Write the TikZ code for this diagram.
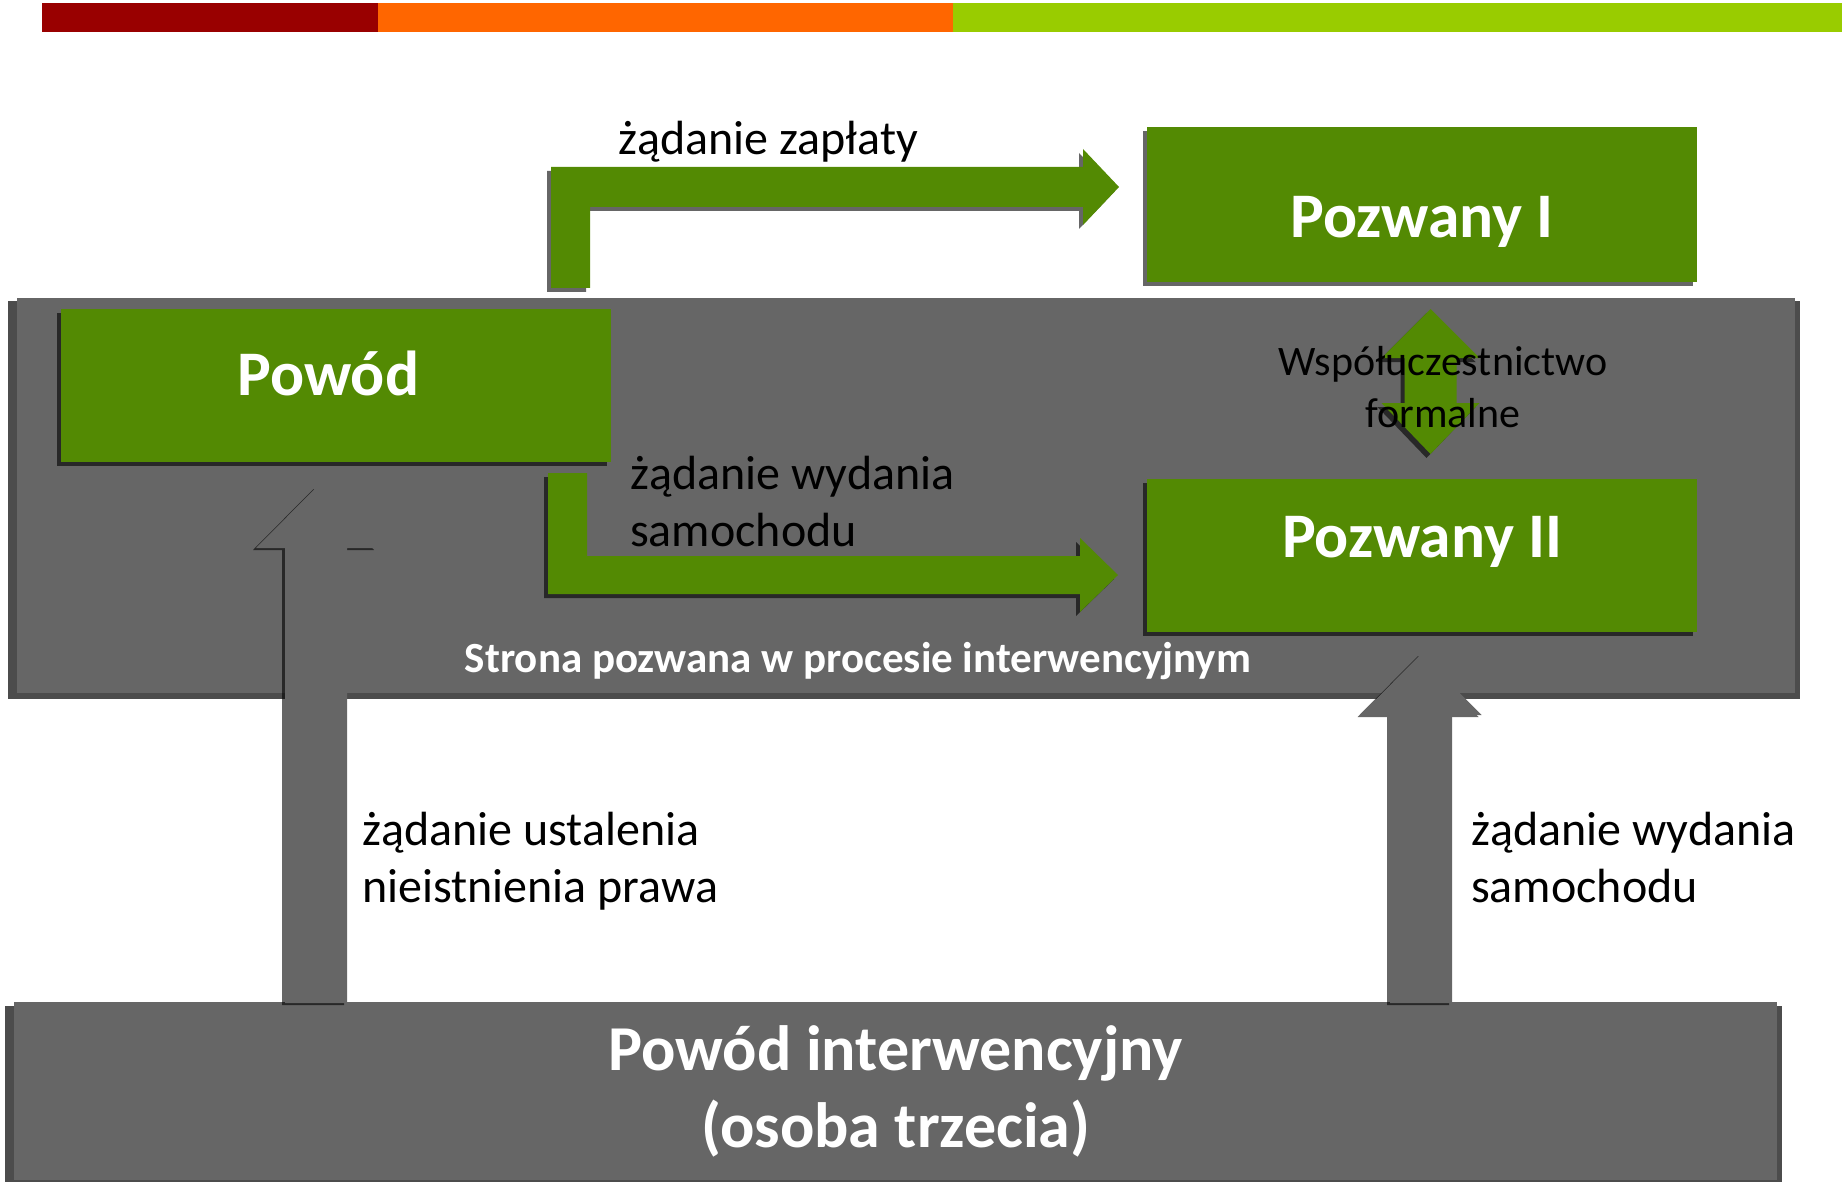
\documentclass[tikz,border=0pt]{standalone}
\usepackage{fontspec}
\setmainfont{Carlito}
\usetikzlibrary{shadows,calc}
\definecolor{grn}{HTML}{538A03}
\definecolor{gry}{HTML}{666666}
\definecolor{barred}{HTML}{990000}
\definecolor{barorange}{HTML}{FF6600}
\definecolor{barlime}{HTML}{99CC00}
\tikzset{
  shd/.style={drop shadow={shadow xshift=-4pt, shadow yshift=-4pt, opacity=0.6, fill=black}},
  gshd/.style={drop shadow={shadow xshift=-3pt, shadow yshift=-2pt, opacity=0.6, fill=black}},
  rectshd/.style={drop shadow={shadow xshift=-2pt, shadow yshift=-4pt, shadow scale=1.008, opacity=0.7, fill=black}},
  greenbox/.style={fill=grn, shd, inner sep=0pt, minimum width=550pt, text=white,
    font=\fontsize{63.5}{76}\selectfont\bfseries},
  graypanel/.style={fill=gry, rectshd, inner sep=0pt},
  lbl/.style={inner sep=0pt, text=black, font=\fontsize{48}{56.5}\selectfont},
  lblsm/.style={inner sep=0pt, text=black, font=\fontsize{42}{51.5}\selectfont},
  whitelbl/.style={inner sep=0pt, text=white, font=\fontsize{43}{50}\selectfont\bfseries},
}
\begin{document}
\begin{tikzpicture}[x=1pt,y=-1pt]
\useasboundingbox (0,0) rectangle (1845,1182);
% top colour bar
\fill[barred] (42,3) rectangle (378,32);
\fill[barorange] (378,3) rectangle (953,32);
\fill[barlime] (953,3) rectangle (1842,32);

% defendant side panel
\node[graypanel, minimum width=1778pt, minimum height=395pt, anchor=north west] (strona) at (17,298) {};

% parties
\node[greenbox, minimum height=153pt, anchor=north west, text height=40pt, text depth=21pt] (powod) at (61,309) {\kern-16pt Powód};
\node[greenbox, minimum height=155pt, anchor=north west, text height=65pt, text depth=0pt] (pozI) at (1147,127) {Pozwany I};
\node[greenbox, minimum height=153pt, anchor=north west, text height=40pt, text depth=37pt] (pozII) at (1147,479) {Pozwany II};

% connector end points
\coordinate (a1start) at (570.5,288);
\coordinate (a1tip) at (1119,187);
\coordinate (a2start) at (567.5,473);
\coordinate (a2tip) at (1118,575);
\coordinate (c1) at (1430.5,309);
\coordinate (c2) at (1430.5,454);

% green block arrows
\fill[grn, shd] ($(a1start)+(-19.5,0)$) |- ($(a1tip)+(-36,-20)$) -- ++(0,-18) -- (a1tip)
  -- ++(-36,38) -- ++(0,-18) -| ($(a1start)+(19.5,0)$) -- cycle;
\fill[grn, shd] ($(a2start)+(-19.5,0)$) |- ($(a2tip)+(-38,19)$) -- ++(0,18) -- (a2tip)
  -- ++(-38,-37) -- ++(0,18) -| ($(a2start)+(19.5,0)$) -- cycle;
\fill[grn, shd] (c1) -- ++(49,49) -- ++(-23,0) -- ++(0,45) -- ++(23,0) -- (c2)
  -- ++(-49,-51) -- ++(23,0) -- ++(0,-45) -- ++(-23,0) -- cycle;

% labels (base anchor of a multi-line node = baseline of its last line)
\node[lbl, anchor=base west] (t1) at (618,155) {żądanie zapłaty};
\node[lbl, anchor=base west, align=left] (t2) at (630,546) {żądanie wydania\\samochodu};
\node[lblsm, anchor=base, align=center] (t3) at (1443,427) {Współuczestnictwo\\formalne};
\node[whitelbl, anchor=base] (t6) at (858,672) {Strona pozwana w procesie interwencyjnym};

% intervening plaintiff
\node[graypanel, minimum width=1763pt, minimum height=178pt, anchor=north west, align=center,
  text=white, font=\fontsize{64}{77}\selectfont\bfseries] (interw) at (14,1002)
  {Powód interwencyjny\\(osoba trzecia)};

% grey block arrows
\coordinate (g1base) at (316,1003);
\coordinate (g1tip) at (316.5,487);
\coordinate (g2base) at (1421,1003);
\coordinate (g2tip) at (1421,654);
\fill[gry, gshd] ($(g1base)+(-31,0)$) |- ($(g1tip)+(-60.5,61)$) -- (g1tip) -- ++(60.5,61)
  -| ($(g1base)+(31,0)$) -- cycle;
\fill[gry, gshd] ($(g2base)+(-31,0)$) |- ($(g2tip)+(-60.5,61)$) -- (g2tip) -- ++(60.5,61)
  -| ($(g2base)+(31,0)$) -- cycle;

\node[lbl, anchor=base west, align=left] (t4) at (362,902) {żądanie ustalenia\\nieistnienia prawa};
\node[lbl, anchor=base west, align=left] (t5) at (1471,902) {żądanie wydania\\samochodu};
\end{tikzpicture}
\end{document}
